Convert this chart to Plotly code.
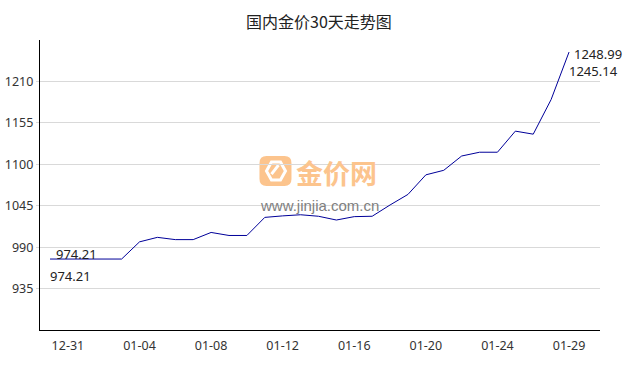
import plotly.graph_objects as go

dates = ["12-30", "12-31", "01-01", "01-02", "01-03", "01-04", "01-05", "01-06",
         "01-07", "01-08", "01-09", "01-10", "01-11", "01-12", "01-13", "01-14",
         "01-15", "01-16", "01-17", "01-18", "01-19", "01-20", "01-21", "01-22",
         "01-23", "01-24", "01-25", "01-26", "01-28", "01-29"]
prices = [974.21, 974.21, 974.21, 974.21, 974.21, 997, 1003, 1000,
          1000, 1009.5, 1005.5, 1005.5, 1029.5, 1031.5, 1033, 1031,
          1026, 1030.5, 1031, 1046, 1060, 1086, 1092, 1111,
          1116, 1116, 1144, 1140, 1186, 1248.99]
tick_labels = ["12-31", "01-04", "01-08", "01-12", "01-16", "01-20", "01-24", "01-29"]
y_ticks = [935, 990, 1045, 1100, 1155, 1210]
start_labels = ["974.21", "974.21"]
end_labels = ["1248.99", "1245.14"]

FONT = "Noto Sans, Noto Sans CJK SC, sans-serif"

fig = go.Figure()
fig.add_trace(go.Scatter(x=dates, y=prices, mode="lines",
                         line=dict(color="#000099", width=1), hoverinfo="skip"))

lab = dict(showarrow=False, xanchor="left", yanchor="middle", borderpad=0,
           font=dict(size=13, color="#222", family=FONT))
ann = [
    dict(x=dates[0], y=prices[0], text=start_labels[0], xshift=5, yshift=5, **lab),
    dict(x=dates[0], y=prices[0], text=start_labels[1], xshift=-1, yshift=-17, **lab),
    dict(x=dates[-1], y=prices[-1], text=end_labels[0], xshift=4, yshift=-2, **lab),
    dict(x=dates[-1], y=prices[-1], text=end_labels[1], xshift=-1, yshift=-19, **lab),
]

# watermark
ann.append(dict(xref="paper", yref="paper", x=0.5295, y=0.543, text="<b>金价网</b>",
                showarrow=False, xanchor="center", yanchor="middle",
                font=dict(size=27, color="#fcc48d", family="Noto Sans CJK SC")))
ann.append(dict(xref="paper", yref="paper", x=0.4995, y=0.4276, text="www.jinjia.com.cn",
                showarrow=False, xanchor="center", yanchor="middle",
                font=dict(size=15, color="#808080", family="Liberation Sans, Arial")))

shapes = [
    dict(type="path", xref="paper", yref="paper", xsizemode="pixel", ysizemode="pixel",
         xanchor=0.4205, yanchor=0.548,
         path="M -9,-15 L 9,-15 Q 16,-15 16,-8 L 16,8 Q 16,15 9,15 L -9,15 Q -16,15 -16,8 L -16,-8 Q -16,-15 -9,-15 Z",
         fillcolor="#fcc48d", line=dict(width=0), layer="below"),
    dict(type="path", xref="paper", yref="paper", xsizemode="pixel", ysizemode="pixel",
         xanchor=0.4205, yanchor=0.548,
         path="M -4,-9 L 5,-9 L 10,0 L 5,9 L -4,9 L -9,0 Z",
         fillcolor="rgba(0,0,0,0)", line=dict(width=3, color="white"), layer="below"),
    dict(type="path", xref="paper", yref="paper", xsizemode="pixel", ysizemode="pixel",
         xanchor=0.4205, yanchor=0.548,
         path="M -4,-3 L 3,6",
         line=dict(width=3, color="white"), layer="below"),
]

fig.update_layout(
    width=638, height=370,
    margin=dict(l=40, r=38, t=40, b=40),
    paper_bgcolor="white", plot_bgcolor="white",
    showlegend=False,
    title=dict(text="国内金价30天走势图", x=0.5, xanchor="center", y=0.94, yanchor="middle",
               font=dict(size=16, color="#222", family="Noto Sans CJK SC")),
    font=dict(family=FONT, size=13, color="#333"),
    annotations=ann,
    shapes=shapes,
)
fig.update_xaxes(type="category", categoryorder="array", categoryarray=dates,
                 range=[-0.56, len(dates) - 1 + 1.73], automargin=False,
                 tickmode="array", tickvals=tick_labels, ticktext=tick_labels,
                 showgrid=False, showline=True, linecolor="black", linewidth=1.2,
                 ticks="outside", ticklen=4, tickcolor="rgba(0,0,0,0)",
                 tickfont=dict(size=12.5, color="#333", family=FONT), zeroline=False)
fig.update_yaxes(range=[880, 1265], tickmode="array", tickvals=y_ticks, automargin=False,
                 showgrid=True, gridcolor="#d9d9d9", gridwidth=1,
                 showline=True, linecolor="black", linewidth=1.2,
                 ticks="outside", ticklen=3, tickcolor="#d9d9d9",
                 tickfont=dict(size=12.5, color="#333", family=FONT), zeroline=False)

fig.write_html("out.html")
